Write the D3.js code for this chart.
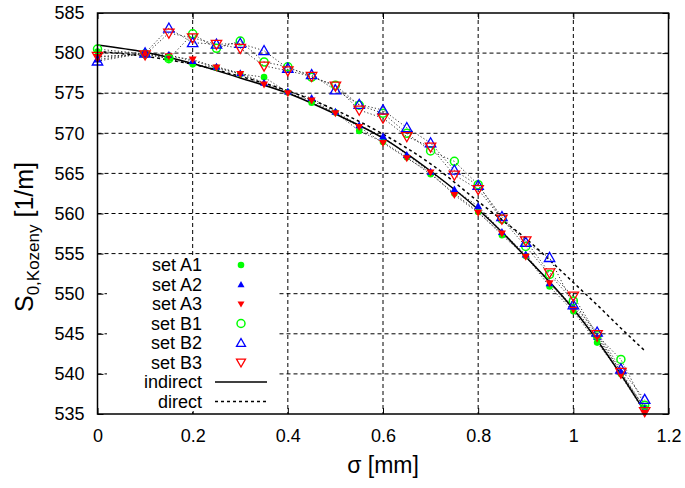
<!DOCTYPE html>
<html><head><meta charset="utf-8">
<script src="https://cdn.jsdelivr.net/npm/d3@7"></script>
<style>body{margin:0;background:#fff}svg{display:block;font-family:"Liberation Sans",Arial,sans-serif}</style>
</head><body><svg id="c" width="685" height="488"></svg>
<script>
const sigma = [0, 0.1, 0.15, 0.2, 0.25, 0.3, 0.35, 0.4, 0.45, 0.5, 0.55, 0.6, 0.65, 0.7, 0.75, 0.8, 0.85, 0.9, 0.95, 1.0, 1.05, 1.1, 1.15];
const setA1 = [580.2, 579.9, 579.3, 578.6, 578.2, 577.4, 577.0, 575.1, 573.8, 572.6, 570.3, 568.9, 567.0, 564.9, 562.5, 560.2, 557.3, 554.7, 550.9, 547.8, 543.9, 540.0, 535.8];
const setA2 = [579.2, 580.0, 579.8, 579.0, 578.3, 577.5, 576.3, 575.2, 574.4, 572.7, 571.0, 569.6, 567.3, 565.2, 563.0, 560.9, 557.7, 554.9, 551.3, 548.4, 544.6, 540.3, 535.7];
const setA3 = [579.5, 579.9, 579.6, 579.2, 578.2, 577.4, 576.1, 575.0, 574.1, 572.5, 570.8, 568.8, 566.9, 565.1, 562.3, 560.1, 557.5, 554.6, 551.3, 548.0, 544.4, 539.8, 535.2];
const setB1 = [580.5, 579.9, 579.3, 582.4, 580.6, 581.5, 578.9, 578.3, 577.0, 576.0, 573.5, 572.5, 570.0, 567.8, 566.5, 563.6, 559.3, 555.9, 552.4, 549.1, 544.8, 541.8, 536.1];
const setB2 = [579.0, 580.0, 583.1, 581.3, 581.1, 581.2, 580.3, 578.1, 577.3, 575.4, 573.6, 572.9, 570.7, 568.8, 565.4, 563.5, 559.6, 556.4, 554.5, 548.6, 545.2, 540.6, 536.8];
const setB3 = [579.6, 579.8, 582.5, 581.9, 581.1, 580.6, 578.4, 577.8, 577.1, 575.9, 572.9, 571.9, 569.6, 568.3, 564.8, 563.0, 559.3, 556.6, 552.6, 549.7, 544.9, 540.2, 535.3];
const curveSigma = [0, 0.1, 0.2, 0.3, 0.4, 0.5, 0.6, 0.7, 0.8, 0.85, 0.9, 0.95, 1.0, 1.05, 1.1, 1.15];
const indirect = [581.0, 580.1, 578.7, 576.9, 575.0, 572.4, 569.4, 565.3, 560.5, 557.7, 554.6, 551.5, 548.1, 544.2, 539.9, 535.3];
const direct = [580.2, 579.6, 578.6, 577.1, 575.3, 572.9, 569.9, 566.2, 561.5, 559.2, 556.9, 554.2, 551.4, 548.6, 545.7, 542.9];
const xTicks = [0, 0.2, 0.4, 0.6, 0.8, 1, 1.2];
const yTicks = [535, 540, 545, 550, 555, 560, 565, 570, 575, 580, 585];
const seriesNames = ["set A1", "set A2", "set A3", "set B1", "set B2", "set B3"];

const svg = d3.select("#c");
const L = 97.5, R = 668.5, T = 13, B = 414;
const x = d3.scaleLinear().domain([0, 1.2]).range([L, R]);
const y = d3.scaleLinear().domain([535, 585]).range([B, T]);

// grid
const g = svg.append("g");
g.selectAll(".gx").data(xTicks.slice(1, -1)).enter().append("line")
  .attr("x1", d => x(d)).attr("x2", d => x(d)).attr("y1", T).attr("y2", B)
  .attr("stroke", "#000").attr("stroke-width", 1).attr("stroke-dasharray", "4,3");
g.selectAll(".gy").data(yTicks.slice(1, -1)).enter().append("line")
  .attr("y1", d => y(d)).attr("y2", d => y(d)).attr("x1", L).attr("x2", R)
  .attr("stroke", "#000").attr("stroke-width", 1).attr("stroke-dasharray", "4,3");

// axes
const fs = 18;
const xAx = svg.append("g").attr("transform", `translate(0,${B})`)
  .call(d3.axisBottom(x).tickValues(xTicks).tickSize(-6).tickPadding(15).tickFormat(d3.format("~g")));
const yAx = svg.append("g").attr("transform", `translate(${L},0)`)
  .call(d3.axisLeft(y).tickValues(yTicks).tickSize(-6).tickPadding(13).tickFormat(d3.format("d")));
svg.append("g").attr("transform", `translate(0,${T})`)
  .call(d3.axisTop(x).tickValues(xTicks).tickSize(-6).tickFormat(""));
svg.append("g").attr("transform", `translate(${R},0)`)
  .call(d3.axisRight(y).tickValues(yTicks).tickSize(-6).tickFormat(""));
svg.selectAll(".domain").remove();
svg.selectAll(".tick line").attr("stroke", "#000").attr("stroke-width", 1);
svg.selectAll(".tick text").attr("font-size", fs).attr("fill", "#000").attr("font-family", "Liberation Sans, Arial, sans-serif");
xAx.selectAll(".tick text").attr("dy", "0.71em");

// legend box (opaque)
svg.append("rect").attr("x", 107).attr("y", 256).attr("width", 172).attr("height", 155).attr("fill", "#fff");

// curves
const line = d3.line().x(d => x(d[0])).y(d => y(d[1]));
const dots = "1.2,2.2";
const series = [setA1, setA2, setA3, setB1, setB2, setB3];
series.forEach(s => {
  svg.append("path").datum(sigma.map((v, i) => [v, s[i]]))
    .attr("d", line).attr("fill", "none").attr("stroke", "#333").attr("stroke-width", 1)
    .attr("stroke-dasharray", dots);
});
svg.append("path").datum(curveSigma.map((v, i) => [v, indirect[i]]))
  .attr("d", d3.line().curve(d3.curveMonotoneX).x(d => x(d[0])).y(d => y(d[1])))
  .attr("fill", "none").attr("stroke", "#000").attr("stroke-width", 1.5);
svg.append("path").datum(curveSigma.map((v, i) => [v, direct[i]]))
  .attr("d", d3.line().curve(d3.curveMonotoneX).x(d => x(d[0])).y(d => y(d[1])))
  .attr("fill", "none").attr("stroke", "#000").attr("stroke-width", 1.5).attr("stroke-dasharray", "3,3");

// markers
const styles = [
  {type: "circle", fill: "#00ff00", stroke: "none", size: 3.3},
  {type: "up", fill: "#0000ff", stroke: "none", size: 4},
  {type: "down", fill: "#ff0000", stroke: "none", size: 4},
  {type: "circle", fill: "none", stroke: "#00ff00", size: 4},
  {type: "up", fill: "none", stroke: "#0000ff", size: 5.2},
  {type: "down", fill: "none", stroke: "#ff0000", size: 5.2}
];
function marker(sel, st, cx, cy) {
  if (st.type === "circle") {
    sel.append("circle").attr("cx", cx).attr("cy", cy).attr("r", st.size)
      .attr("fill", st.fill).attr("stroke", st.stroke).attr("stroke-width", 1.5);
  } else {
    const s = st.size, dir = st.type === "up" ? 1 : -1;
    const pts = [[cx, cy - dir * s], [cx - s, cy + dir * s * 0.75], [cx + s, cy + dir * s * 0.75]];
    sel.append("polygon").attr("points", pts.map(p => p.join(",")).join(" "))
      .attr("fill", st.fill).attr("stroke", st.stroke).attr("stroke-width", 1.3);
  }
}
const mk = svg.append("g");
series.forEach((s, k) => {
  s.forEach((v, i) => marker(mk, styles[k], x(sigma[i]), y(v)));
});

// legend
const lg = svg.append("g");
const rowY = k => 265 + k * 19.5;
seriesNames.forEach((n, k) => {
  const ly = rowY(k);
  lg.append("text").attr("x", 202).attr("y", ly).attr("dy", "0.35em").attr("text-anchor", "end")
    .attr("font-size", fs).text(n);
  const st = Object.assign({}, styles[k]);
  st.size = k < 3 ? (k === 0 ? 3.3 : 3.5) : (k === 3 ? 4 : 4.5);
  marker(lg, st, 241, ly);
});
[["indirect", null], ["direct", "3,3"]].forEach((e, k) => {
  const ly = rowY(6 + k);
  lg.append("text").attr("x", 202).attr("y", ly).attr("dy", "0.35em").attr("text-anchor", "end")
    .attr("font-size", fs).text(e[0]);
  const l = lg.append("line").attr("x1", 215).attr("x2", 267).attr("y1", ly).attr("y2", ly)
    .attr("stroke", "#000").attr("stroke-width", 1.5);
  if (e[1]) l.attr("stroke-dasharray", e[1]);
});

// border
svg.append("rect").attr("x", L).attr("y", T).attr("width", R - L).attr("height", B - T)
  .attr("fill", "none").attr("stroke", "#000").attr("stroke-width", 1.5);

// axis titles
svg.append("text").attr("x", (L + R) / 2).attr("y", 473).attr("text-anchor", "middle")
  .attr("font-size", 23).text("σ [mm]");
const yl = svg.append("text").attr("transform", `translate(33,237) rotate(-90)`)
  .attr("text-anchor", "middle").attr("font-size", 25);
yl.append("tspan").text("S");
yl.append("tspan").attr("font-size", 17).attr("dy", 6).text("0,Kozeny");
yl.append("tspan").attr("dy", -6).text(" [1/m]");
</script></body></html>
